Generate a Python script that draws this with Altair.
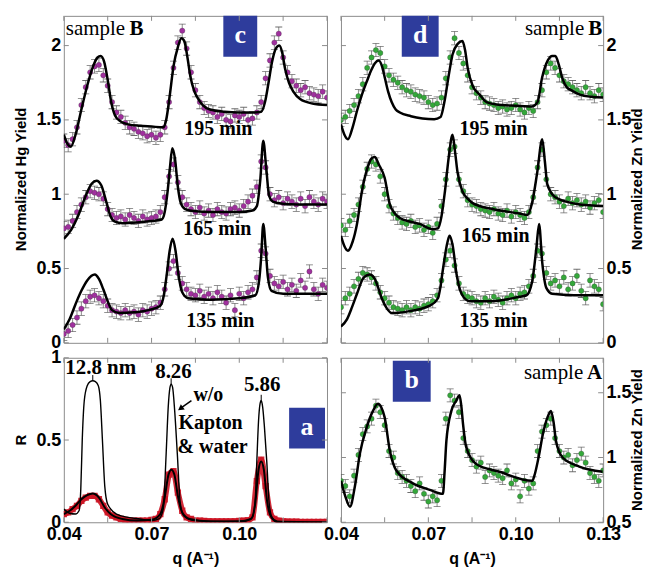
import altair as alt
import pandas as pd

# ---------------- data ----------------
Q = [0.0400, 0.0415, 0.0430, 0.0445, 0.0460, 0.0475, 0.0490, 0.0505, 0.0520, 0.0535,
     0.0550, 0.0565, 0.0580, 0.0595, 0.0610, 0.0625, 0.0640, 0.0655, 0.0670, 0.0685,
     0.0700, 0.0715, 0.0730, 0.0745, 0.0760, 0.0775, 0.0790, 0.0805, 0.0820, 0.0835,
     0.0850, 0.0865, 0.0880, 0.0895, 0.0910, 0.0925, 0.0940, 0.0955, 0.0970, 0.0985,
     0.1000, 0.1015, 0.1030, 0.1045, 0.1060, 0.1075, 0.1090, 0.1105, 0.1120, 0.1135,
     0.1150, 0.1165, 0.1180, 0.1195, 0.1210, 0.1225, 0.1240, 0.1255, 0.1270, 0.1285,
     0.1300]

# panel c: Hg yield, sample B
C195_PTS = [1.36, 1.33, 1.37, 1.45, 1.60, 1.72, 1.82, 1.86, 1.87, 1.80,
            1.73, 1.62, 1.55, 1.52, 1.48, 1.45, 1.44, 1.42, 1.41, 1.39,
            1.40, 1.38, 1.40, 1.45, 1.62, 1.85, 2.02, 2.10, 1.98, 1.82,
            1.70, 1.62, 1.58, 1.56, 1.55, 1.52, 1.54, 1.50, 1.49, 1.53,
            1.52, 1.54, 1.50, 1.51, 1.55, 1.62, 1.78, 1.90, 2.02, 2.08,
            1.92, 1.82, 1.76, 1.73, 1.70, 1.72, 1.68, 1.67, 1.66, 1.69,
            1.65]
C165_PTS = [0.77, 0.78, 0.82, 0.88, 0.93, 0.98, 1.02, 1.01, 1.00, 0.97,
            0.90, 0.86, 0.84, 0.85, 0.83, 0.86, 0.84, 0.82, 0.85, 0.83,
            0.84, 0.85, 0.88, 0.98, 1.12, 1.20, 1.08, 0.98, 0.93, 0.90,
            0.88, 0.91, 0.87, 0.89, 0.86, 0.90, 0.88, 0.87, 0.90, 0.91,
            0.89, 0.92, 0.95, 0.99, 1.05, 1.22, 1.18, 1.00, 0.96, 0.98,
            0.94, 0.97, 0.95, 0.93, 0.97, 0.92, 0.98, 0.95, 0.93, 0.97,
            0.95]
C135_PTS = [0.06, 0.08, 0.12, 0.17, 0.23, 0.28, 0.31, 0.32, 0.30, 0.28,
            0.25, 0.22, 0.21, 0.20, 0.22, 0.20, 0.21, 0.19, 0.22, 0.21,
            0.23, 0.24, 0.27, 0.36, 0.50, 0.55, 0.47, 0.40, 0.36, 0.33,
            0.32, 0.35, 0.31, 0.33, 0.30, 0.34, 0.31, 0.27, 0.32, 0.22,
            0.33, 0.30, 0.34, 0.36, 0.44, 0.62, 0.60, 0.45, 0.40, 0.38,
            0.41, 0.36, 0.39, 0.35, 0.42, 0.37, 0.48, 0.36, 0.33, 0.39,
            0.37]
C195_FIT_Q = [0.040, 0.0412, 0.0424, 0.0440, 0.0460, 0.0480, 0.0500, 0.0515, 0.0526, 0.0538,
              0.0550, 0.0562, 0.0575, 0.0594, 0.0620, 0.0660, 0.0700, 0.0740, 0.0750, 0.0762,
              0.0775, 0.0790, 0.0802, 0.0812, 0.0822, 0.0833, 0.0845, 0.0857, 0.0875, 0.0900,
              0.0950, 0.1000, 0.1050, 0.1075, 0.1088, 0.1100, 0.1112, 0.1125, 0.1137, 0.1147,
              0.1157, 0.1170, 0.1185, 0.1208, 0.1250, 0.1300]
C195_FIT_V = [1.40, 1.34, 1.32, 1.40, 1.57, 1.73, 1.86, 1.92, 1.93, 1.89,
              1.77, 1.62, 1.53, 1.49, 1.47, 1.46, 1.455, 1.45, 1.50, 1.66,
              1.86, 1.99, 2.05, 2.03, 1.93, 1.79, 1.70, 1.65, 1.60, 1.57,
              1.555, 1.55, 1.55, 1.555, 1.62, 1.75, 1.89, 1.98, 2.00, 1.95,
              1.84, 1.75, 1.69, 1.64, 1.61, 1.60]
C165_FIT_Q = [0.040, 0.0425, 0.045, 0.0475, 0.0495, 0.0512, 0.0528, 0.0545, 0.056, 0.0575,
              0.060, 0.065, 0.070, 0.0735, 0.0745, 0.0755, 0.0763, 0.0771, 0.0780, 0.0790,
              0.0800, 0.0815, 0.085, 0.090, 0.100, 0.1045, 0.106, 0.1072, 0.1082, 0.1092,
              0.1102, 0.1115, 0.115, 0.120, 0.130]
C165_FIT_V = [0.70, 0.76, 0.86, 0.99, 1.07, 1.09, 1.06, 0.95, 0.85, 0.815,
              0.805, 0.81, 0.82, 0.83, 0.88, 1.02, 1.18, 1.31, 1.24, 1.05,
              0.94, 0.90, 0.885, 0.88, 0.88, 0.89, 0.92, 1.10, 1.36, 1.18,
              0.99, 0.95, 0.935, 0.93, 0.93]
C135_FIT_Q = [0.040, 0.042, 0.044, 0.046, 0.048, 0.0506, 0.052, 0.0535, 0.055, 0.0565,
              0.059, 0.064, 0.069, 0.0730, 0.0742, 0.0752, 0.0762, 0.0772, 0.0782, 0.0792,
              0.0805, 0.0825, 0.090, 0.100, 0.1055, 0.1068, 0.1075, 0.1082, 0.1090, 0.1098,
              0.1110, 0.115, 0.130]
C135_FIT_V = [0.09, 0.16, 0.26, 0.35, 0.42, 0.46, 0.43, 0.36, 0.28, 0.22,
              0.20, 0.205, 0.22, 0.25, 0.32, 0.46, 0.62, 0.70, 0.62, 0.46,
              0.34, 0.30, 0.29, 0.30, 0.32, 0.42, 0.58, 0.80, 0.64, 0.44,
              0.35, 0.33, 0.33]

# panel d: Zn yield, sample B
D195_PTS = [1.50, 1.52, 1.56, 1.60, 1.66, 1.74, 1.85, 1.92, 1.97, 1.95,
            1.86, 1.80, 1.77, 1.75, 1.72, 1.70, 1.69, 1.67, 1.66, 1.65,
            1.62, 1.60, 1.61, 1.65, 1.78, 1.92, 2.05, 1.95, 1.88, 1.80,
            1.72, 1.68, 1.65, 1.62, 1.61, 1.60, 1.58, 1.59, 1.57, 1.58,
            1.60, 1.57, 1.55, 1.58, 1.56, 1.62, 1.70, 1.82, 1.88, 1.85,
            1.80, 1.76, 1.74, 1.72, 1.70, 1.68, 1.72, 1.68, 1.66, 1.70,
            1.67]
D165_PTS = [0.79, 0.76, 0.82, 0.86, 0.93, 1.05, 1.17, 1.22, 1.20, 1.12,
            1.00, 0.92, 0.87, 0.84, 0.81, 0.80, 0.82, 0.78, 0.79, 0.76,
            0.78, 0.74, 0.80, 0.92, 1.10, 1.30, 1.32, 1.10, 1.02, 0.96,
            0.93, 0.92, 0.90, 0.89, 0.88, 0.90, 0.87, 0.86, 0.89, 0.85,
            0.88, 0.86, 0.84, 0.88, 0.98, 1.18, 1.30, 1.10, 1.00, 0.98,
            0.95, 0.92, 0.97, 0.94, 0.96, 0.93, 0.95, 0.91, 0.94, 0.96,
            0.88]
D135_PTS = [0.24, 0.30, 0.33, 0.38, 0.43, 0.47, 0.46, 0.44, 0.40, 0.34,
            0.30, 0.27, 0.24, 0.23, 0.22, 0.24, 0.22, 0.24, 0.23, 0.25,
            0.26, 0.28, 0.32, 0.42, 0.56, 0.62, 0.52, 0.40, 0.33, 0.31,
            0.30, 0.28, 0.27, 0.30, 0.28, 0.31, 0.29, 0.27, 0.30, 0.32,
            0.30, 0.33, 0.34, 0.38, 0.45, 0.62, 0.60, 0.47, 0.40, 0.42,
            0.38, 0.44, 0.36, 0.40, 0.45, 0.35, 0.30, 0.42, 0.38, 0.36,
            0.26]
D195_FIT_Q = [0.040, 0.0412, 0.0424, 0.044, 0.0455, 0.0472, 0.0489, 0.0503, 0.0516, 0.053,
              0.0541, 0.0551, 0.0562, 0.0574, 0.0588, 0.0602, 0.064, 0.068, 0.072, 0.0742,
              0.0755, 0.0770, 0.0783, 0.0800, 0.0817, 0.0826, 0.0835, 0.0852, 0.0876, 0.090,
              0.095, 0.100, 0.1055, 0.1075, 0.1090, 0.1110, 0.1125, 0.1136, 0.1148, 0.1160,
              0.1175, 0.119, 0.122, 0.126, 0.130]
D195_FIT_V = [1.47, 1.40, 1.37, 1.45, 1.56, 1.67, 1.76, 1.83, 1.88, 1.90,
              1.86, 1.78, 1.69, 1.62, 1.57, 1.55, 1.525, 1.51, 1.505, 1.52,
              1.62, 1.80, 1.94, 2.01, 2.03, 1.97, 1.85, 1.73, 1.67, 1.62,
              1.60, 1.595, 1.59, 1.62, 1.78, 1.90, 1.93, 1.93, 1.87, 1.78,
              1.72, 1.70, 1.67, 1.655, 1.65]
D165_FIT_Q = [0.040, 0.0412, 0.0424, 0.044, 0.0455, 0.0472, 0.049, 0.0505, 0.0516, 0.053,
              0.055, 0.0568, 0.0585, 0.0602, 0.064, 0.067, 0.0715, 0.0733, 0.0745, 0.0757,
              0.0770, 0.0783, 0.0792, 0.0800, 0.0817, 0.0835, 0.0852, 0.092, 0.1013, 0.104,
              0.1057, 0.1074, 0.1091, 0.1100, 0.1108, 0.1125, 0.1150, 0.1173, 0.122, 0.130]
D165_FIT_V = [0.72, 0.65, 0.62, 0.68, 0.80, 1.02, 1.17, 1.24, 1.25, 1.20,
              1.11, 0.93, 0.87, 0.84, 0.815, 0.80, 0.765, 0.77, 0.85, 1.02,
              1.25, 1.40, 1.28, 1.15, 1.02, 0.97, 0.94, 0.90, 0.87, 0.86,
              0.95, 1.15, 1.37, 1.22, 1.07, 1.00, 0.965, 0.95, 0.93, 0.92]
D135_FIT_Q = [0.040, 0.0421, 0.0438, 0.0455, 0.0475, 0.0490, 0.0499, 0.0516, 0.0528, 0.054,
              0.0558, 0.0575, 0.0626, 0.0705, 0.0733, 0.0741, 0.0749, 0.0766, 0.0773, 0.0783,
              0.0797, 0.0814, 0.0841, 0.092, 0.1013, 0.1037, 0.1057, 0.1071, 0.1080, 0.1091,
              0.1105, 0.1125, 0.120, 0.130]
D135_FIT_V = [0.11, 0.16, 0.24, 0.33, 0.43, 0.455, 0.46, 0.43, 0.37, 0.30,
              0.23, 0.20, 0.21, 0.25, 0.30, 0.37, 0.48, 0.68, 0.72, 0.66,
              0.46, 0.33, 0.28, 0.28, 0.31, 0.32, 0.42, 0.64, 0.80, 0.54,
              0.37, 0.33, 0.32, 0.32]

# panel b: Zn yield, sample A
B_PTS = [0.82, 0.78, 0.70, 0.86, 1.02, 1.18, 1.24, 1.30, 1.40, 1.35,
         1.25, 1.05, 1.00, 0.88, 0.85, 0.82, 0.78, 0.74, 0.80, 0.72,
         0.66, 0.70, 0.67, 0.82, 1.30, 1.48, 1.44, 1.35, 1.15, 1.05,
         0.98, 0.93, 0.96, 0.85, 0.90, 0.88, 0.86, 0.84, 0.90, 0.80,
         0.83, 0.70, 0.82, 0.76, 0.80, 1.05, 1.20, 1.25, 1.30, 1.15,
         1.05, 1.00, 1.02, 0.94, 0.98, 1.03, 0.96, 0.88, 0.85, 0.82,
         0.90]
B_FIT_Q = [0.040, 0.0415, 0.0431, 0.0448, 0.0465, 0.0488, 0.051, 0.0527, 0.0538, 0.055,
           0.0568, 0.059, 0.0647, 0.0705, 0.075, 0.0756, 0.0762, 0.0779, 0.0796, 0.0807,
           0.0813, 0.0819, 0.083, 0.0864, 0.0944, 0.1057, 0.1064, 0.1080, 0.1093, 0.1109,
           0.1121, 0.1130, 0.1138, 0.1161, 0.1218, 0.1298]
B_FIT_V = [0.82, 0.70, 0.62, 0.78, 1.03, 1.23, 1.36, 1.415, 1.39, 1.31,
           1.05, 0.90, 0.80, 0.75, 0.72, 0.90, 1.13, 1.36, 1.44, 1.48,
           1.40, 1.26, 1.08, 0.95, 0.89, 0.82, 0.86, 1.02, 1.18, 1.31,
           1.36, 1.27, 1.13, 1.00, 0.93, 0.89]

# panel a: reflectivity R
A_RED = [0.05, 0.06, 0.08, 0.10, 0.13, 0.15, 0.16, 0.16, 0.14, 0.10,
         0.06, 0.04, 0.03, 0.02, 0.015, 0.01, 0.01, 0.01, 0.01, 0.01,
         0.015, 0.02, 0.05, 0.14, 0.29, 0.31, 0.18, 0.07, 0.03, 0.02,
         0.01, 0.01, 0.008, 0.006, 0.005, 0.005, 0.005, 0.005, 0.005, 0.006,
         0.008, 0.01, 0.012, 0.03, 0.25, 0.38, 0.22, 0.06, 0.02, 0.01,
         0.005, 0.004, 0.003, 0.003, 0.002, 0.002, 0.002, 0.002, 0.002, 0.002,
         0.002]
A_FIT_Q = [0.040, 0.042, 0.044, 0.046, 0.048, 0.0499, 0.052, 0.054, 0.056, 0.060,
           0.065, 0.070, 0.073, 0.0745, 0.0758, 0.0768, 0.0778, 0.0790, 0.0805, 0.083,
           0.090, 0.100, 0.104, 0.1055, 0.1066, 0.1075, 0.1084, 0.1095, 0.1110, 0.113,
           0.130]
A_FIT_V = [0.05, 0.07, 0.10, 0.14, 0.165, 0.175, 0.15, 0.09, 0.05, 0.02,
           0.01, 0.015, 0.05, 0.15, 0.29, 0.32, 0.29, 0.16, 0.06, 0.02,
           0.005, 0.005, 0.02, 0.12, 0.32, 0.37, 0.32, 0.13, 0.03, 0.005,
           0.0]
A_BARE_Q = [0.040, 0.042, 0.044, 0.0452, 0.0458, 0.0463, 0.0470, 0.0480, 0.0490, 0.0499,
            0.0508, 0.0518, 0.0525, 0.0532, 0.0540, 0.0550, 0.058, 0.062, 0.066, 0.070,
            0.0725, 0.0740, 0.0750, 0.0757, 0.0763, 0.0767, 0.0772, 0.0779, 0.0788, 0.0798,
            0.0810, 0.085, 0.095, 0.1025, 0.1045, 0.1055, 0.1060, 0.1066, 0.1071, 0.1075,
            0.1080, 0.1086, 0.1094, 0.1102, 0.1112, 0.1130, 0.130]
A_BARE_V = [0.08, 0.055, 0.05, 0.07, 0.20, 0.50, 0.74, 0.83, 0.855, 0.86,
            0.855, 0.83, 0.74, 0.50, 0.22, 0.11, 0.05, 0.03, 0.02, 0.01,
            0.02, 0.08, 0.42, 0.70, 0.82, 0.84, 0.82, 0.68, 0.42, 0.12,
            0.04, 0.01, 0.005, 0.01, 0.03, 0.15, 0.37, 0.62, 0.72, 0.74,
            0.70, 0.58, 0.37, 0.12, 0.03, 0.0, 0.0]
A_PEAK_Q = [0.0499, 0.0767, 0.1075]
A_PEAK_R = [0.86, 0.84, 0.74]
A_PEAK_LABELS = ["12.8 nm", "8.26", "5.86"]

ERR_HG = 0.045
ERR_ZN = 0.045
ERR_A = 0.05

TIME_LABELS = ["195 min", "165 min", "135 min"]
X_TICKS = [0.04, 0.055, 0.07, 0.085, 0.10, 0.115, 0.13]
X_LABELS_A = [0.04, 0.07, 0.10]
X_LABELS_B = [0.04, 0.07, 0.10, 0.13]

# ---------------- styling ----------------
SANS = "Liberation Sans"
SERIF = "Liberation Serif"
MAGENTA = "#a0309e"
GREEN = "#34a83a"
BLUE_BOX = "#2e3c9c"
FRAME = "#8c8c8c"
XDOM = [0.04, 0.13]


def y_axis(values, orient):
    return alt.Axis(orient=orient, values=values, labelExpr="'' + datum.value", ticks=False,
                    domain=False, grid=False, labelFont=SANS, labelFontSize=18,
                    labelFontWeight="bold", labelColor="black", labelPadding=3, title=None)


def x_axis(values):
    if values is None:
        return None
    return alt.Axis(values=values, format=".2f", labelFlush=False, ticks=False,
                    domain=False, grid=False, labelFont=SANS, labelFontSize=18,
                    labelFontWeight="bold", labelColor="black", labelPadding=3,
                    title="q (A\u207b\u00b9)", titleFont=SANS, titleFontSize=16,
                    titleFontWeight="bold", titleColor="black", titlePadding=7)


def txt(t, x, y, size=20, bold=True, align="center", color="black", font=SERIF, angle=0):
    return (alt.Chart(pd.DataFrame({"t": [t]}))
            .mark_text(font=font, fontSize=size, fontWeight="bold" if bold else "normal",
                       align=align, baseline="middle", color=color, angle=angle)
            .encode(text="t:N", x=alt.value(x), y=alt.value(y)))


def make_panel(W, H, ydom, yvals, ytitle, yorient, xlabels, pts, fits, color, err,
               extra_layers):
    xa = x_axis(xlabels)
    ya = y_axis(yvals, yorient)
    X = lambda f: alt.X(f"{f}:Q", scale=alt.Scale(domain=XDOM, nice=False, zero=False), axis=xa)
    Y = lambda f: alt.Y(f"{f}:Q", scale=alt.Scale(domain=ydom, nice=False, zero=False), axis=ya)

    layers = []
    if pts:
        rows = []
        for name, vals in pts:
            for q, v in zip(Q, vals):
                rows.append({"s": name, "q": q, "v": v, "lo": v - err, "hi": v + err})
        pdf = pd.DataFrame(rows)
        base = alt.Chart(pdf)
        layers.append(base.mark_rule(color="#555555", strokeWidth=0.8, opacity=0.85, clip=True)
                      .encode(x=X("q"), y=Y("lo"), y2="hi"))
        layers.append(base.mark_tick(orient="horizontal", size=7, thickness=0.8,
                                     color="#555555", opacity=0.85, clip=True)
                      .encode(x=X("q"), y=Y("lo")))
        layers.append(base.mark_tick(orient="horizontal", size=7, thickness=0.8,
                                     color="#555555", opacity=0.85, clip=True)
                      .encode(x=X("q"), y=Y("hi")))
        layers.append(base.mark_circle(size=28, color=color, opacity=1, clip=True,
                                       stroke="#3d3d3d", strokeWidth=0.3)
                      .encode(x=X("q"), y=Y("v")))
    if fits:
        rows = []
        for name, fq, fv in fits:
            for q, v in zip(fq, fv):
                rows.append({"s": name, "q": q, "v": v})
        fdf = pd.DataFrame(rows)
        layers.append(alt.Chart(fdf).mark_line(color="black", strokeWidth=2.5,
                                               interpolate="monotone", clip=True)
                      .encode(x=X("q"), y=Y("v"), detail="s:N"))

    layers += extra_layers(X, Y)

    # inward ticks on all four sides
    xt = alt.Chart(pd.DataFrame({"q": X_TICKS}))
    yt = alt.Chart(pd.DataFrame({"v": yvals}))
    layers.append(xt.mark_rule(color=FRAME, strokeWidth=1)
                  .encode(x=X("q"), y=alt.value(H), y2=alt.value(H - 5)))
    layers.append(xt.mark_rule(color=FRAME, strokeWidth=1)
                  .encode(x=X("q"), y=alt.value(0), y2=alt.value(5)))
    layers.append(yt.mark_rule(color=FRAME, strokeWidth=1)
                  .encode(y=Y("v"), x=alt.value(0), x2=alt.value(5)))
    layers.append(yt.mark_rule(color=FRAME, strokeWidth=1)
                  .encode(y=Y("v"), x=alt.value(W - 5), x2=alt.value(W)))

    # y-axis title as rotated text (reads bottom to top on both sides)
    tx = -43 if yorient == "left" else W + 34
    layers.append(txt(ytitle, tx, H / 2, size=15, font=SANS, angle=270))
    return alt.layer(*layers).properties(width=W, height=H)


def box(letter, x0, x1, y0, y1):
    r = (alt.Chart(pd.DataFrame({"t": [letter]})).mark_rect(color=BLUE_BOX)
         .encode(x=alt.value(x0), x2=alt.value(x1), y=alt.value(y0), y2=alt.value(y1)))
    return [r, txt(letter, (x0 + x1) / 2, (y0 + y1) / 2 - 1, size=26, color="white")]


def extras_c(X, Y):
    return ([txt("sample", 2, 13, size=21, bold=False, align="left"),
             txt("B", 66, 13, size=21, bold=True, align="left"),
             txt(TIME_LABELS[0], 155, 114),
             txt(TIME_LABELS[1], 154, 214),
             txt(TIME_LABELS[2], 157, 306)]
            + box("c", 160, 194, 0, 41))


def extras_d(X, Y):
    return ([txt("sample", 244, 13, size=21, bold=False, align="right"),
             txt("B", 262, 13, size=21, bold=True, align="right"),
             txt(TIME_LABELS[0], 153, 114),
             txt(TIME_LABELS[1], 155, 221),
             txt(TIME_LABELS[2], 153, 306)]
            + box("d", 61, 98, 0, 41))


def extras_b(X, Y):
    return ([txt("sample", 243, 15, size=21, bold=False, align="right"),
             txt("A", 262, 15, size=21, bold=True, align="right")]
            + box("b", 52, 90, 3, 44))


def extras_a(X, Y):
    red = pd.DataFrame({"q": Q, "v": A_RED})
    fit = pd.DataFrame({"q": A_FIT_Q, "v": A_FIT_V})
    bare = pd.DataFrame({"q": A_BARE_Q, "v": A_BARE_V})
    pk = pd.DataFrame({"q": A_PEAK_Q, "v": A_PEAK_R})
    pk["v2"] = pk["v"] + 0.035
    out = [
        alt.Chart(red).mark_line(color="#cc1424", strokeWidth=6, opacity=0.9,
                                 interpolate="monotone", clip=True)
        .encode(x=X("q"), y=Y("v")),
        alt.Chart(red).mark_square(color="#cc1424", size=40, opacity=0.9, clip=True)
        .encode(x=X("q"), y=Y("v")),
        alt.Chart(fit).mark_line(color="black", strokeWidth=2, interpolate="monotone", clip=True)
        .encode(x=X("q"), y=Y("v")),
        alt.Chart(bare).mark_line(color="black", strokeWidth=1.4, interpolate="monotone", clip=True)
        .encode(x=X("q"), y=Y("v")),
        alt.Chart(pk).mark_rule(color="black", strokeWidth=1)
        .encode(x=X("q"), y=Y("v"), y2="v2"),
        txt(A_PEAK_LABELS[0], 37, 10, size=21),
        txt(A_PEAK_LABELS[1], 110, 14, size=21),
        txt(A_PEAK_LABELS[2], 199, 27, size=21),
        txt("w/o", 130, 37, size=20, align="left"),
        txt("Kapton", 115, 65, size=20, align="left"),
        txt("& water", 114, 90, size=20, align="left"),
        alt.Chart(pd.DataFrame({"t": ["arrow"]})).mark_rule(color="black", strokeWidth=1.5)
        .encode(x=alt.value(128), x2=alt.value(118), y=alt.value(43), y2=alt.value(50)),
        alt.Chart(pd.DataFrame({"t": ["head"]})).mark_point(shape="triangle-up", filled=True,
                                                             color="black", size=45, angle=234,
                                                             opacity=1)
        .encode(x=alt.value(117), y=alt.value(51)),
    ]
    return out + box("a", 226, 262, 50, 91)


panel_c = make_panel(264, 328, [0, 2.2], [0, 0.5, 1, 1.5, 2], "Normalized Hg Yield", "left",
                     None,
                     [("195", C195_PTS), ("165", C165_PTS), ("135", C135_PTS)],
                     [("195", C195_FIT_Q, C195_FIT_V), ("165", C165_FIT_Q, C165_FIT_V),
                      ("135", C135_FIT_Q, C135_FIT_V)],
                     MAGENTA, ERR_HG, extras_c)
panel_d = make_panel(263, 328, [0, 2.2], [0, 0.5, 1, 1.5, 2], "Normalized Zn Yield", "right",
                     None,
                     [("195", D195_PTS), ("165", D165_PTS), ("135", D135_PTS)],
                     [("195", D195_FIT_Q, D195_FIT_V), ("165", D165_FIT_Q, D165_FIT_V),
                      ("135", D135_FIT_Q, D135_FIT_V)],
                     GREEN, ERR_ZN, extras_d)
panel_a = make_panel(264, 165, [0, 1], [0, 0.5, 1], "R", "left", X_LABELS_A,
                     [], [], "black", 0, extras_a)
panel_b = make_panel(263, 165, [0.5, 1.77], [0.5, 1, 1.5], "Normalized Zn Yield", "right",
                     X_LABELS_B, [("A", B_PTS)], [("A", B_FIT_Q, B_FIT_V)],
                     GREEN, ERR_A, extras_b)

chart = (alt.concat(panel_c, panel_d, panel_a, panel_b, columns=2, bounds="flush",
                    spacing={"row": 15, "column": 14})
         .properties(padding={"left": 5, "top": 6, "right": 0, "bottom": 0},
                     background="white")
         .configure_view(stroke=FRAME, strokeWidth=1))

chart.save("out.html", embed_options={"renderer": "svg", "actions": False})
